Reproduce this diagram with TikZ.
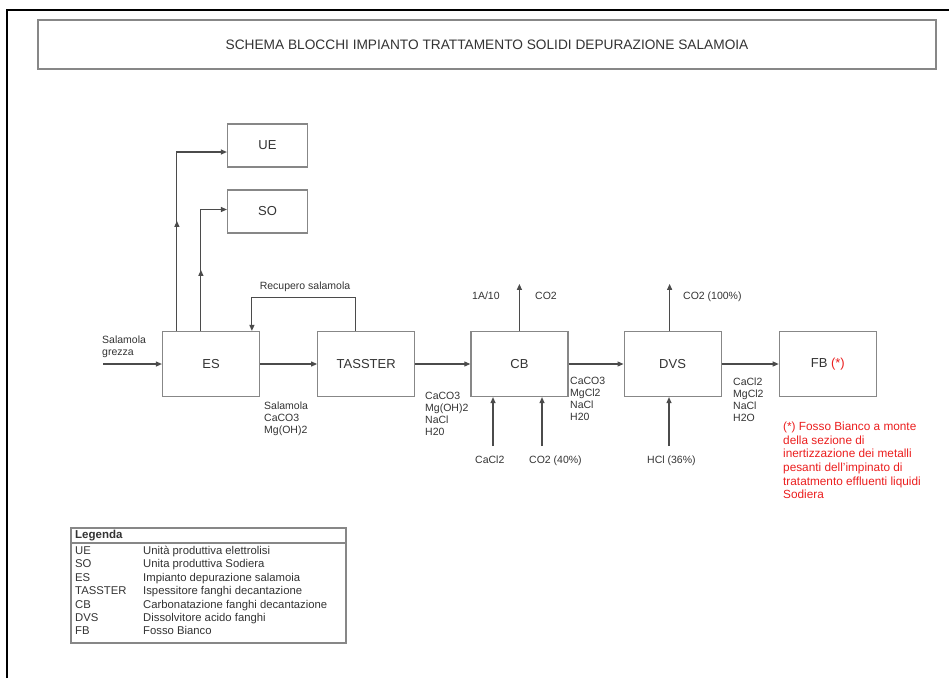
\documentclass[tikz,border=0pt]{standalone}
\usepackage{fontspec}
\setmainfont{Liberation Sans}
\usepackage{xcolor}
\definecolor{boxgray}{RGB}{135,135,135}
\definecolor{linegray}{RGB}{75,75,75}
\definecolor{notered}{RGB}{235,30,30}
\usepackage{tikz}
\usetikzlibrary{arrows.meta, positioning, shadows}

\begin{document}
\begin{tikzpicture}[
    x=1pt, y=-1pt,
    every node/.style={font=\fontsize{10.5}{12}\selectfont, text=black!80},
    blk/.style={draw=boxgray, line width=1.2pt, fill=white,
                minimum width=97pt, minimum height=65pt,
                font=\fontsize{13}{15}\selectfont},
    smallblk/.style={blk, minimum width=80pt, minimum height=43pt},
    lbl/.style={anchor=north west, inner sep=0pt, align=left},
    arr/.style={-{Triangle[length=6pt, width=5pt]}, draw=linegray, line width=1.1pt},
    shadowbox/.style={draw=boxgray, line width=1.2pt, fill=white,
                      drop shadow={opacity=0.25, shadow xshift=1.2pt, shadow yshift=-1.2pt}},
]
\useasboundingbox (0,0) rectangle (949,678);

% ===== frame and title =====
\draw[line width=2.6pt] (7,678) -- (7,10) -- (949,10);
\node[shadowbox, minimum width=898pt, minimum height=49pt,
      font=\fontsize{13.7}{15}\selectfont] (title) at (487,44.5)
      {SCHEMA BLOCCHI IMPIANTO TRATTAMENTO SOLIDI DEPURAZIONE SALAMOIA};

% ===== main line of blocks =====
\node[blk] (ES) at (211,364) {ES};
\node[blk, right=57pt of ES] (TASSTER) {TASSTER};
\node[blk, right=55pt of TASSTER] (CB) {CB};
\node[blk, right=55pt of CB] (DVS) {DVS};
\node[blk, right=57pt of DVS] (FB) {FB {\color{notered}(*)}};

% users of the brine
\node[smallblk] (UE) at (267.5,145.5) {UE};
\node[smallblk] (SO) at (267.5,211.5) {SO};

% ===== feed and main flow =====
\coordinate (feed) at (103,364);
\draw[arr] (feed) -- (ES.west);
\node[lbl] (feedlbl) at (102,336) {Salamola\\grezza};

\draw[arr] (ES.east) -- (TASSTER.west);
\draw[arr] (TASSTER.east) -- (CB.west);
\draw[arr] (CB.east) -- (DVS.west);
\draw[arr] (DVS.east) -- (FB.west);

\node[lbl] (l1) at (264,402) {Salamola\\CaCO3\\Mg(OH)2};
\node[lbl] (l2) at (425,392) {CaCO3\\Mg(OH)2\\NaCl\\H20};
\node[lbl] (l3) at (570,377) {CaCO3\\MgCl2\\NaCl\\H20};
\node[lbl] (l4) at (733,378) {CaCl2\\MgCl2\\NaCl\\H2O};

% ===== ES to UE / SO =====
\coordinate (ue1) at ([xshift=15pt]ES.north west);
\draw[arr] (ue1) |- ([yshift=-6.5pt]UE.west);
\draw[arr] (ue1) -- ([yshift=110pt]ue1);
\coordinate (so1) at ([xshift=39pt]ES.north west);
\draw[arr] (so1) |- ([yshift=2pt]SO.west);
\draw[arr] (so1) -- ([yshift=61pt]so1);

% brine recovery
\coordinate (rec1) at ([xshift=38pt]TASSTER.north west);
\coordinate (rec2) at ([xshift=90pt]ES.north west);
\draw[arr] (rec1) -- ++(0,-33) -| (rec2);
\node[anchor=north, inner sep=0pt] (reclbl) at (305,282) {Recupero salamola};

% ===== CB streams =====
\coordinate (cbtop) at ([yshift=47pt]CB.north);
\draw[arr] (CB.north) -- (cbtop);
\node[lbl] (ia) at (472,292) {1A/10};
\node[lbl] (co2a) at (535,292) {CO2};

\coordinate (caclin) at (493,446);
\coordinate (co2in) at (542,446);
\draw[arr] (caclin) -- (caclin |- CB.south);
\draw[arr] (co2in) -- (co2in |- CB.south);
\node[lbl] (cacl) at (475,456) {CaCl2};
\node[lbl] (co2b) at (529,456) {CO2 (40\%)};

% ===== DVS streams =====
\coordinate (dvstop) at ([xshift=-3pt, yshift=47pt]DVS.north);
\draw[arr] ([xshift=-3pt]DVS.north) -- (dvstop);
\node[lbl] (co2c) at (683,292) {CO2 (100\%)};

\coordinate (hclin) at (669,446);
\draw[arr] (hclin) -- (hclin |- DVS.south);
\node[lbl] (hcl) at (647,456) {HCl (36\%)};

% note on FB
\node[lbl, text=notered, font=\fontsize{11.8}{13.6}\selectfont] (note) at (783,422)
     {(*) Fosso Bianco a monte\\della sezione di\\inertizzazione dei metalli\\pesanti dell'impinato di\\tratatmento effluenti liquidi\\Sodiera};

% ===== legend =====
\node[shadowbox, minimum width=275pt, minimum height=115pt] (leg) at (208.5,585.5) {};
\node[anchor=west, inner sep=0pt, font=\fontsize{11.5}{13}\selectfont\bfseries] (legT) at (75,535.5) {Legenda};
\draw[draw=boxgray, line width=1.2pt] (leg.west |- 0,543) -- (leg.east |- 0,543);
\node[lbl, font=\fontsize{11.3}{13.4}\selectfont] (legrows) at (75,545)
     {\begin{tabular}{@{}p{56pt}l@{}}
      UE & Unità produttiva elettrolisi\\
      SO & Unita produttiva Sodiera\\
      ES & Impianto depurazione salamoia\\
      TASSTER & Ispessitore fanghi decantazione\\
      CB & Carbonatazione fanghi decantazione\\
      DVS & Dissolvitore acido fanghi\\
      FB & Fosso Bianco
      \end{tabular}};

\end{tikzpicture}
\end{document}
